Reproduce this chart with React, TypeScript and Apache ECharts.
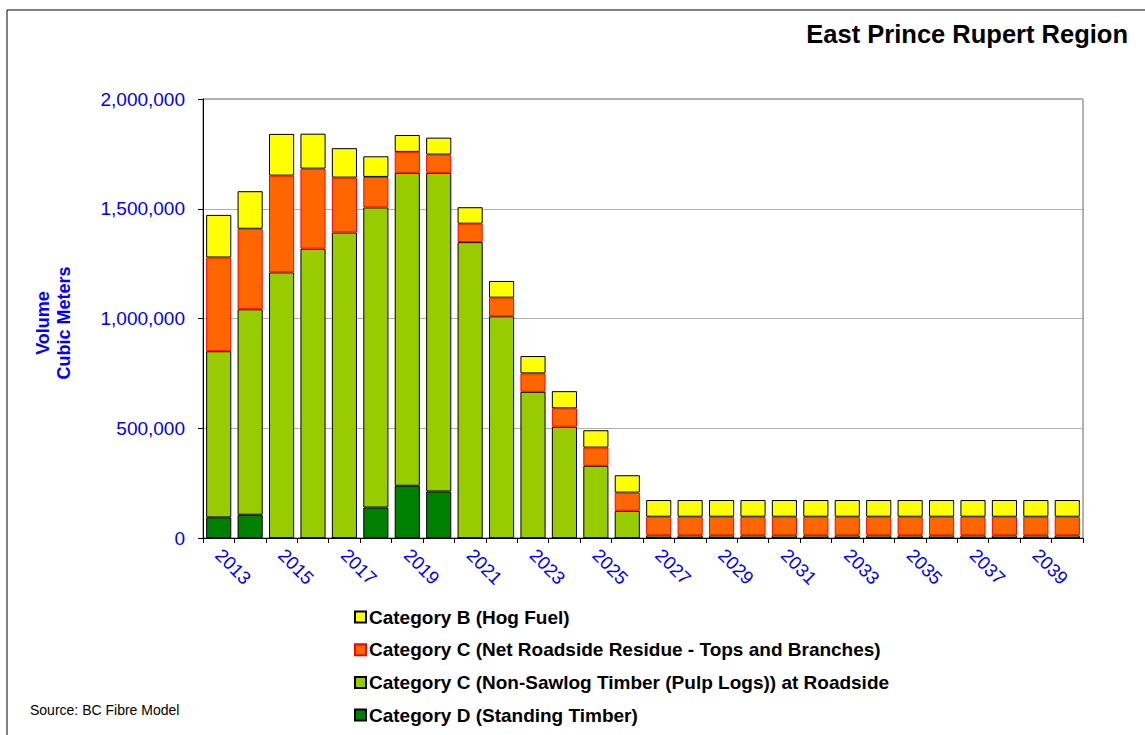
import React, { useEffect, useRef } from "react";
import * as echarts from "echarts";

const years = [
  "2013", "2014", "2015", "2016", "2017", "2018", "2019", "2020", "2021", "2022",
  "2023", "2024", "2025", "2026", "2027", "2028", "2029", "2030", "2031", "2032",
  "2033", "2034", "2035", "2036", "2037", "2038", "2039", "2040",
];
const standingTimber = [
  94000, 106000, 0, 0, 0, 139000, 238000, 212000, 0, 0,
  0, 0, 0, 0, 0, 0, 0, 0, 0, 0,
  0, 0, 0, 0, 0, 0, 0, 0,
];
const pulpLogs = [
  757000, 936000, 1210000, 1318000, 1392000, 1367000, 1426000, 1452000, 1348000, 1010000,
  666000, 507000, 329000, 124000, 12000, 12000, 12000, 12000, 12000, 12000,
  12000, 12000, 12000, 12000, 12000, 12000, 12000, 12000,
];
const roadsideResidue = [
  427000, 367000, 441000, 365000, 250000, 139000, 95000, 83000, 84000, 85000,
  84000, 84000, 83000, 83000, 85000, 85000, 85000, 85000, 85000, 85000,
  85000, 85000, 85000, 85000, 85000, 85000, 85000, 85000,
];
const hogFuel = [
  194000, 171000, 190000, 159000, 134000, 94000, 77000, 77000, 75000, 76000,
  79000, 78000, 79000, 79000, 76000, 76000, 76000, 76000, 76000, 76000,
  76000, 76000, 76000, 76000, 76000, 76000, 76000, 76000,
];

const NAME_HOG = "Category B (Hog Fuel)";
const NAME_RES = "Category C (Net Roadside Residue - Tops and Branches)";
const NAME_PULP = "Category C (Non-Sawlog Timber (Pulp Logs)) at Roadside";
const NAME_STAND = "Category D (Standing Timber)";

const FONT = "'Liberation Sans', Arial, sans-serif";

export default function App() {
  const ref = useRef<HTMLDivElement>(null);
  useEffect(() => {
    document.body.style.margin = "0";
    if (!ref.current) return;
    const chart = echarts.init(ref.current, undefined, { renderer: "svg" });
    const mk = (name: string, data: number[], color: string, border: string) => ({
      name,
      type: "bar",
      stack: "total",
      data,
      barCategoryGap: "20%",
      itemStyle: { color, borderColor: border, borderWidth: 1 },
    });
    chart.setOption({
      animation: false,
      backgroundColor: "#ffffff",
      textStyle: { fontFamily: FONT },
      title: {
        text: "East Prince Rupert Region",
        right: 17,
        top: 21,
        padding: 0,
        textStyle: { fontFamily: FONT, fontSize: 25.5, fontWeight: "bold", color: "#000" },
      },
      grid: {
        left: 203,
        top: 99,
        width: 880,
        height: 439,
        show: true,
        borderColor: "#666",
        borderWidth: 1,
        containLabel: false,
      },
      legend: {
        orient: "vertical",
        left: 354,
        top: 606,
        padding: 0,
        height: 130,
        itemWidth: 11,
        itemHeight: 11,
        itemGap: 10.7,
        icon: "rect",
        data: [NAME_HOG, NAME_RES, NAME_PULP, NAME_STAND],
        textStyle: { fontFamily: FONT, fontSize: 19, fontWeight: "bold", color: "#000", lineHeight: 22, padding: [0, 0, 0, -2] },
      },
      xAxis: {
        type: "category",
        data: years,
        axisLine: { lineStyle: { color: "#000", width: 1 } },
        axisTick: { show: true, interval: 0, length: 5, lineStyle: { color: "#000" } },
        axisLabel: {
          interval: 1,
          rotate: -45,
          color: "#0000ff",
          fontFamily: FONT,
          fontSize: 18.5,
          margin: 14,
        },
        splitLine: { show: false },
      },
      yAxis: {
        type: "value",
        min: 0,
        max: 2000000,
        interval: 500000,
        axisLine: { show: true, lineStyle: { color: "#000" } },
        axisTick: { show: true, length: 5, lineStyle: { color: "#000" } },
        axisLabel: {
          color: "#0000ff",
          fontFamily: FONT,
          fontSize: 19,
          margin: 18,
          formatter: (v: number) => v.toLocaleString("en-US"),
        },
        splitLine: { show: true, lineStyle: { color: "#b0b0b0", width: 1 } },
      },
      graphic: [
        {
          type: "rect",
          shape: { x: 7, y: 10, width: 1200, height: 800 },
          style: { fill: "none", stroke: "#000", lineWidth: 1 },
          silent: true,
          z: -10,
        },
        {
          type: "text",
          x: 53,
          y: 323,
          rotation: Math.PI / 2,
          style: {
            text: "Volume\nCubic Meters",
            fill: "#0000ff",
            font: `bold 18px ${FONT}`,
            textAlign: "center",
            textVerticalAlign: "middle",
            lineHeight: 21,
          },
        },
        {
          type: "text",
          left: 30,
          top: 703,
          style: {
            text: "Source: BC Fibre Model",
            fill: "#000",
            font: `14px ${FONT}`,
          },
        },
      ],
      series: [
        mk(NAME_STAND, standingTimber, "#008000", "#000000"),
        mk(NAME_PULP, pulpLogs, "#99cc00", "#000000"),
        mk(NAME_RES, roadsideResidue, "#ff6600", "#ff0000"),
        mk(NAME_HOG, hogFuel, "#ffff00", "#000000"),
      ],
    });
    return () => chart.dispose();
  }, []);
  return <div ref={ref} style={{ width: 1145, height: 735 }} />;
}
